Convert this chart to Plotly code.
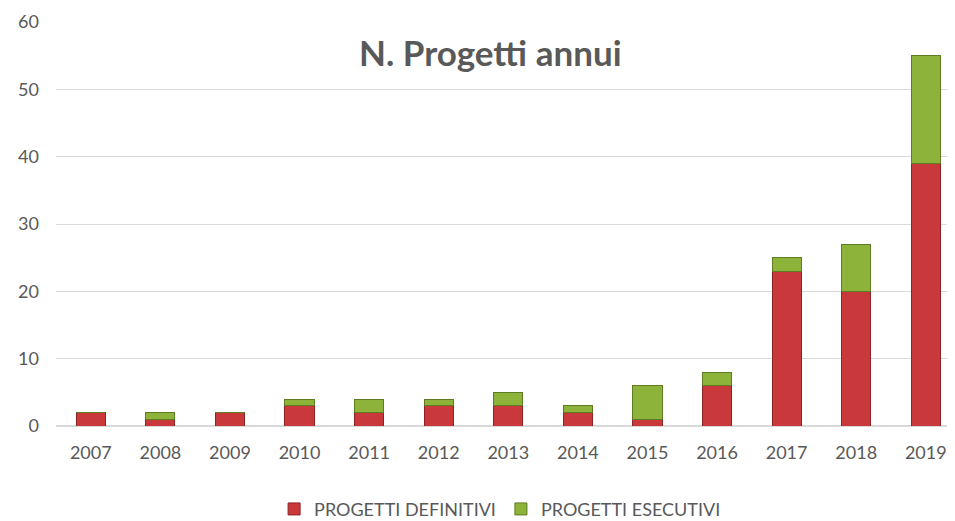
import plotly.graph_objects as go

years = ["2007", "2008", "2009", "2010", "2011", "2012", "2013",
         "2014", "2015", "2016", "2017", "2018", "2019"]
definitivi = [2, 1, 2, 3, 2, 3, 3, 2, 1, 6, 23, 20, 39]
esecutivi = [0, 1, 0, 1, 2, 1, 2, 1, 5, 2, 2, 7, 16]

fig = go.Figure()
fig.add_trace(go.Bar(
    x=years, y=definitivi, name="PROGETTI DEFINITIVI",
    marker=dict(color="#C9383A", line=dict(color="#8E2325", width=1)),
    width=0.42,
))
fig.add_trace(go.Bar(
    x=years, y=esecutivi, name="PROGETTI ESECUTIVI",
    marker=dict(color="#8DB33A", line=dict(color="#5E7C22", width=1)),
    width=0.42,
))

# the page adds an 8px body margin, so the figure is sized 947x513
fig.update_layout(
    barmode="stack",
    width=947, height=513,
    margin=dict(l=48, r=0, t=14, b=95, autoexpand=False),
    paper_bgcolor="white", plot_bgcolor="white",
    font=dict(family="Lato, 'Open Sans', sans-serif", size=18, color="#595959"),
    showlegend=True,
    legend=dict(orientation="h", x=0.494, xanchor="center", y=-0.206, yanchor="middle",
                font=dict(size=18, color="#595959"), traceorder="normal",
                itemwidth=30, tracegroupgap=0),
    annotations=[dict(text="<b>N. Progetti annui</b>", x=0.483, xref="paper",
                      y=0.926, yref="paper", yanchor="middle", showarrow=False,
                      font=dict(size=35, color="#595959"))],
    xaxis=dict(type="category", range=[-0.5, 12.42], showgrid=False, automargin=False,
               showline=False, ticks="", tickfont=dict(size=18, color="#595959"),
               ticklabelstandoff=14),
    yaxis=dict(range=[0, 60], dtick=10, showgrid=True, gridcolor="#D9D9D9", automargin=False,
               gridwidth=1, zeroline=True, zerolinecolor="#D9D9D9", zerolinewidth=2,
               ticks="", tickfont=dict(size=18, color="#595959"), ticklabelstandoff=16),
)

fig.write_html("out.html")
